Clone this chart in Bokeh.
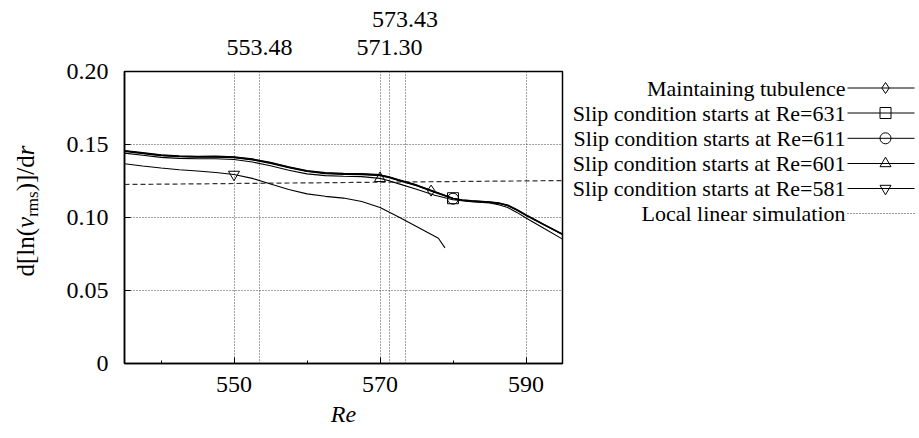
import numpy as np
from bokeh.plotting import figure
from bokeh.models import Range1d, LinearAxis, FixedTicker, NumeralTickFormatter
from bokeh.layouts import row
from bokeh.embed import file_html
from bokeh.resources import INLINE
from bokeh.core.properties import value

FONT = "Liberation Serif"

# ---------------- data ----------------
re_grid = [535, 537.5, 540, 542.5, 545, 547.5, 550, 552.5, 555, 557.5, 560, 562.5, 565,
           567.5, 570, 571.25, 572.5, 575, 577.5, 580, 581.25, 582.5, 585, 586.25, 587.5,
           588.75, 590, 592.5, 595]

maintaining = [0.1456, 0.1441, 0.1426, 0.1419, 0.1416, 0.1417, 0.1413, 0.1398, 0.1374, 0.1344,
               0.1318, 0.1304, 0.1299, 0.1297, 0.1290, 0.1276, 0.1257, 0.1221, 0.1175, 0.1131,
               0.1119, 0.1113, 0.1105, 0.1098, 0.1083, 0.1052, 0.1016, 0.0950, 0.0885]
slip631 = [0.1459, 0.1444, 0.1429, 0.1422, 0.1419, 0.1420, 0.1416, 0.1401, 0.1377, 0.1347,
           0.1321, 0.1307, 0.1302, 0.1300, 0.1293, 0.1279, 0.1260, 0.1223, 0.1177, 0.1132,
           0.1121, 0.1115, 0.1107, 0.1100, 0.1085, 0.1054, 0.1018, 0.0952, 0.0887]
slip611 = [0.1453, 0.1438, 0.1423, 0.1416, 0.1413, 0.1414, 0.1410, 0.1395, 0.1371, 0.1341,
           0.1315, 0.1301, 0.1296, 0.1294, 0.1287, 0.1273, 0.1254, 0.1218, 0.1172, 0.1129,
           0.1117, 0.1111, 0.1103, 0.1096, 0.1081, 0.1050, 0.1014, 0.0948, 0.0883]
slip601 = [0.1441, 0.1426, 0.1412, 0.1405, 0.1402, 0.1402, 0.1397, 0.1380, 0.1354, 0.1324,
           0.1299, 0.1287, 0.1283, 0.1280, 0.1268, 0.1252, 0.1232, 0.1193, 0.1152, 0.1122,
           0.1115, 0.1109, 0.1099, 0.1088, 0.1068, 0.1035, 0.0997, 0.0924, 0.0852]

re_581 = [535, 537.5, 540, 542.5, 545, 547.5, 550, 552.5, 555, 557.5, 560, 562.5, 565,
          567.5, 570, 572.5, 575, 578.0, 578.9]
slip581 = [0.1368, 0.1353, 0.1339, 0.1327, 0.1318, 0.1308, 0.1295, 0.1268, 0.1230, 0.1192,
           0.1162, 0.1145, 0.1133, 0.1110, 0.1068, 0.1005, 0.0938, 0.0858, 0.0792]

re_linear = [535, 595]
local_linear = [0.1226, 0.1253]

# Re where each series' point symbol is drawn
marker_re = [577.0, 580.0, 580.0, 570.0, 550.0]

x_ticks = [550, 570, 590]
x_minor = [540, 560, 580]
y_ticks = [0, 0.05, 0.10, 0.15, 0.20]
top_ticks = [553.48, 571.30, 573.43]

legend_labels = ["Maintaining tubulence",
                 "Slip condition starts at Re=631",
                 "Slip condition starts at Re=611",
                 "Slip condition starts at Re=601",
                 "Slip condition starts at Re=581",
                 "Local linear simulation"]
legend_markers = ["diamond", "square", "circle", "triangle", "inverted_triangle", None]

# y-axis title pieces: text, style, size
ytitle_parts = [("d[ln(", "normal", 25), ("v", "italic", 25), ("rms", "normal", 17),
                (")]/d", "normal", 25), ("r", "italic", 25)]

# ---------------- layout constants (pixels) ----------------
H = 436
W_TITLE, W_MAIN, W_LEG = 50, 516, 351
FRAME_TOP, FRAME_BOTTOM = 72, 364   # page coordinates of the main frame

# ---------------- main plot ----------------
p = figure(width=W_MAIN, height=H, x_range=Range1d(535, 595), y_range=Range1d(0, 0.2),
           output_backend="svg", toolbar_location=None,
           min_border_left=74, min_border_right=4, min_border_top=71, min_border_bottom=73)
p.background_fill_color = "white"
p.border_fill_color = "white"
p.outline_line_color = "black"
p.outline_line_width = 1.5

for ax in (p.xaxis[0], p.yaxis[0]):
    ax.axis_line_color = "black"
    ax.axis_line_width = 1.5
    ax.major_tick_in = 6
    ax.major_tick_out = 0
    ax.minor_tick_in = 3
    ax.minor_tick_out = 0
    ax.major_tick_line_color = "black"
    ax.major_label_text_font = FONT
    ax.major_label_text_font_size = "24px"
    ax.major_label_text_color = "black"

p.xaxis[0].ticker = FixedTicker(ticks=x_ticks, minor_ticks=x_minor)
p.xaxis[0].major_label_standoff = 13
p.xaxis[0].axis_label = "Re"
p.xaxis[0].axis_label_text_font = FONT
p.xaxis[0].axis_label_text_font_size = "24px"
p.xaxis[0].axis_label_text_font_style = "italic"
p.xaxis[0].axis_label_text_color = "black"
p.xaxis[0].axis_label_standoff = 6

p.yaxis[0].ticker = FixedTicker(ticks=y_ticks)
p.yaxis[0].formatter = NumeralTickFormatter(format="0.00")
p.yaxis[0].major_label_overrides = {0: "0"}
p.yaxis[0].major_label_standoff = 16
p.yaxis[0].minor_tick_line_color = None


def top_axis(ticks, standoff):
    a = LinearAxis(ticker=FixedTicker(ticks=ticks), formatter=NumeralTickFormatter(format="0.00"))
    a.axis_line_color = None
    a.major_tick_line_color = None
    a.minor_tick_line_color = None
    a.major_label_text_font = FONT
    a.major_label_text_font_size = "24px"
    a.major_label_text_color = "black"
    a.major_label_standoff = standoff
    return a


p.add_layout(top_axis(top_ticks[:2], 11), "above")
p.add_layout(top_axis(top_ticks[2:], 4), "above")

p.xgrid.ticker = FixedTicker(ticks=x_ticks + top_ticks)
p.ygrid.ticker = FixedTicker(ticks=[0.05, 0.10, 0.15])
for g in (p.xgrid[0], p.ygrid[0]):
    g.grid_line_color = "#444444"
    g.grid_line_dash = "1 2"
    g.grid_line_width = 1

# curves
p.line(re_linear, local_linear, line_color="#333333", line_width=1.2, line_dash="5 3")
p.line(re_581, slip581, line_color="black", line_width=1.1)
p.line(re_grid, slip601, line_color="black", line_width=1.1)
p.line(re_grid, slip611, line_color="black", line_width=1.2)
p.line(re_grid, slip631, line_color="black", line_width=1.2)
p.line(re_grid, maintaining, line_color="black", line_width=1.4)

series_for_markers = [(re_grid, maintaining), (re_grid, slip631), (re_grid, slip611),
                      (re_grid, slip601), (re_581, slip581)]
for (xs, ys), m_re, mk in zip(series_for_markers, marker_re, legend_markers[:5]):
    p.scatter(x=[m_re], y=[float(np.interp(m_re, xs, ys))], marker=mk, size=11,
              fill_color=None, line_color="black", line_width=1)

# ---------------- y title panel (left) ----------------
yt = figure(width=W_TITLE, height=H, x_range=Range1d(1, 1 + W_TITLE),
            y_range=Range1d(FRAME_BOTTOM, FRAME_TOP), output_backend="svg",
            toolbar_location=None, x_axis_type=None, y_axis_type=None, min_border=0)
yt.outline_line_color = None
yt.grid.visible = False
yt.background_fill_color = "white"
yt.border_fill_color = "white"

# advance widths (em) of the pieces in Liberation Serif
adv = {"d[ln(": 1.944, "v": 0.444, "rms": 1.5, ")]/d": 1.444, "r": 0.389}
pos = 277.0
for txt, style, fs in ytitle_parts:
    xx = 33 if fs < 20 else 26
    yt.text(x=[xx], y=[pos], text=[txt], angle=np.pi / 2, text_align="left",
            text_baseline="middle", text_font=value(FONT), text_font_size=f"{fs}px",
            text_font_style=style, text_color="black")
    pos -= adv[txt] * fs

# ---------------- legend panel (right) ----------------
x0 = 1 + W_TITLE + W_MAIN
leg = figure(width=W_LEG, height=H, x_range=Range1d(x0, x0 + W_LEG),
             y_range=Range1d(FRAME_BOTTOM, FRAME_TOP), output_backend="svg",
             toolbar_location=None, x_axis_type=None, y_axis_type=None, min_border=0)
leg.outline_line_color = None
leg.grid.visible = False
leg.background_fill_color = "white"
leg.border_fill_color = "white"

row_y = [88.5, 113.5, 138.8, 164.0, 189.0, 214.0]
leg.text(x=[846] * 6, y=row_y, text=legend_labels, text_align="right",
         text_baseline="middle", text_font=value(FONT), text_font_size="22px",
         text_color="black")
leg.segment(x0=[848] * 5, y0=row_y[:5], x1=[915] * 5, y1=row_y[:5],
            line_color="black", line_width=1)
leg.segment(x0=[848], y0=[row_y[5]], x1=[915], y1=[row_y[5]],
            line_color="#333333", line_width=1, line_dash="1 2")
for yy, mk in zip(row_y[:5], legend_markers[:5]):
    leg.scatter(x=[886], y=[yy], marker=mk, size=11, fill_color=None,
                line_color="black", line_width=1)

layout = row(yt, p, leg)
open("out.html", "w").write(file_html(layout, INLINE))
